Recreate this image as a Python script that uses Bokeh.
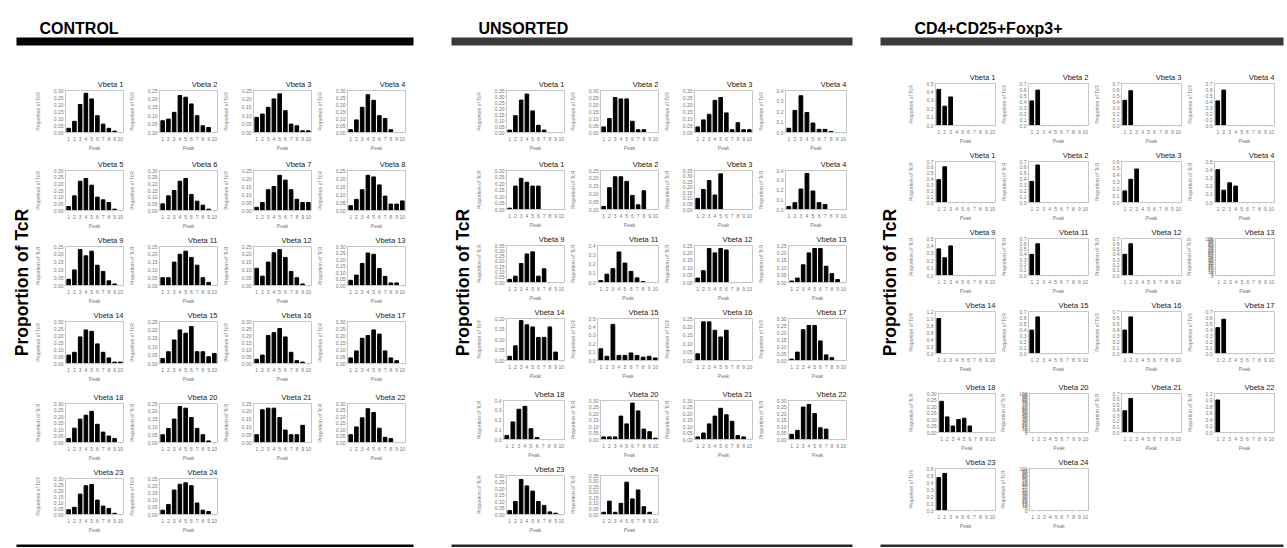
import math
from bokeh.plotting import figure
from bokeh.layouts import row, column
from bokeh.models import Range1d, FixedTicker, PrintfTickFormatter, Spacer, ColumnDataSource
from bokeh.core.properties import value
from bokeh.embed import file_html
from bokeh.resources import INLINE

FONT = "Liberation Sans"

PANEL_NAMES = ["CONTROL", "UNSORTED", "CD4+CD25+Foxp3+"]
BIG_LABEL = "Proportion of TcR"
X_LABEL = "Peak"
PEAKS = [1, 2, 3, 4, 5, 6, 7, 8, 9, 10]

CONTROL_TITLES = ["Vbeta 1", "Vbeta 2", "Vbeta 3", "Vbeta 4", "Vbeta 5", "Vbeta 6", "Vbeta 7", "Vbeta 8",
                  "Vbeta 9", "Vbeta 11", "Vbeta 12", "Vbeta 13", "Vbeta 14", "Vbeta 15", "Vbeta 16", "Vbeta 17",
                  "Vbeta 18", "Vbeta 20", "Vbeta 21", "Vbeta 22", "Vbeta 23", "Vbeta 24"]
CONTROL_YMAX = [0.30, 0.25, 0.25, 0.30, 0.30, 0.30, 0.25, 0.25,
                0.25, 0.25, 0.25, 0.30, 0.30, 0.25, 0.30, 0.30,
                0.30, 0.25, 0.25, 0.30, 0.30, 0.25]
CONTROL_VALUES = [
    [0.03, 0.08, 0.20, 0.28, 0.24, 0.12, 0.06, 0.03, 0.01, 0.00],
    [0.07, 0.08, 0.12, 0.22, 0.21, 0.17, 0.10, 0.04, 0.03, 0.00],
    [0.09, 0.11, 0.15, 0.20, 0.23, 0.13, 0.05, 0.04, 0.01, 0.01],
    [0.02, 0.09, 0.18, 0.27, 0.23, 0.12, 0.10, 0.02, 0.00, 0.00],
    [0.03, 0.11, 0.22, 0.24, 0.19, 0.10, 0.08, 0.06, 0.01, 0.00],
    [0.05, 0.11, 0.15, 0.22, 0.24, 0.12, 0.07, 0.04, 0.01, 0.00],
    [0.02, 0.05, 0.13, 0.15, 0.22, 0.19, 0.13, 0.07, 0.05, 0.05],
    [0.03, 0.07, 0.13, 0.22, 0.21, 0.16, 0.09, 0.04, 0.04, 0.06],
    [0.04, 0.10, 0.23, 0.19, 0.22, 0.13, 0.09, 0.03, 0.01, 0.00],
    [0.05, 0.05, 0.15, 0.20, 0.22, 0.18, 0.13, 0.05, 0.02, 0.00],
    [0.11, 0.06, 0.15, 0.21, 0.23, 0.18, 0.09, 0.05, 0.01, 0.00],
    [0.04, 0.08, 0.17, 0.25, 0.24, 0.13, 0.07, 0.02, 0.02, 0.00],
    [0.06, 0.08, 0.19, 0.24, 0.23, 0.14, 0.08, 0.04, 0.01, 0.01],
    [0.03, 0.07, 0.14, 0.20, 0.18, 0.22, 0.07, 0.07, 0.04, 0.06],
    [0.03, 0.06, 0.20, 0.22, 0.25, 0.19, 0.08, 0.02, 0.01, 0.00],
    [0.04, 0.09, 0.18, 0.20, 0.24, 0.21, 0.09, 0.04, 0.02, 0.00],
    [0.03, 0.11, 0.18, 0.21, 0.24, 0.14, 0.08, 0.05, 0.03, 0.00],
    [0.05, 0.09, 0.15, 0.23, 0.22, 0.16, 0.09, 0.05, 0.01, 0.00],
    [0.05, 0.21, 0.22, 0.22, 0.16, 0.08, 0.05, 0.05, 0.11, 0.00],
    [0.06, 0.12, 0.19, 0.26, 0.23, 0.11, 0.04, 0.03, 0.00, 0.00],
    [0.04, 0.06, 0.17, 0.24, 0.25, 0.12, 0.07, 0.05, 0.01, 0.00],
    [0.03, 0.07, 0.17, 0.21, 0.22, 0.20, 0.08, 0.03, 0.02, 0.00],
]

UNSORTED_TITLES = ["Vbeta 1", "Vbeta 2", "Vbeta 3", "Vbeta 4", "Vbeta 1", "Vbeta 2", "Vbeta 3", "Vbeta 4",
                   "Vbeta 9", "Vbeta 11", "Vbeta 12", "Vbeta 13", "Vbeta 14", "Vbeta 15", "Vbeta 16", "Vbeta 17",
                   "Vbeta 18", "Vbeta 20", "Vbeta 21", "Vbeta 22", "Vbeta 23", "Vbeta 24"]
UNSORTED_YMAX = [0.35, 0.30, 0.30, 0.4, 0.30, 0.25, 0.35, 0.4,
                 0.35, 0.4, 0.25, 0.25, 0.20, 0.5, 0.25, 0.30,
                 0.4, 0.30, 0.30, 0.30, 0.30, 0.35]
UNSORTED_VALUES = [
    [0.02, 0.14, 0.27, 0.32, 0.18, 0.06, 0.02, 0.00, 0.00, 0.00],
    [0.04, 0.10, 0.25, 0.24, 0.24, 0.08, 0.02, 0.02, 0.00, 0.00],
    [0.04, 0.09, 0.13, 0.23, 0.25, 0.14, 0.02, 0.07, 0.02, 0.02],
    [0.04, 0.21, 0.35, 0.19, 0.09, 0.03, 0.03, 0.01, 0.00, 0.00],
    [0.01, 0.18, 0.24, 0.21, 0.18, 0.18, 0.00, 0.00, 0.00, 0.00],
    [0.02, 0.14, 0.21, 0.21, 0.18, 0.09, 0.03, 0.12, 0.00, 0.00],
    [0.10, 0.18, 0.26, 0.13, 0.32, 0.00, 0.00, 0.00, 0.00, 0.00],
    [0.03, 0.07, 0.21, 0.37, 0.19, 0.07, 0.05, 0.00, 0.00, 0.00],
    [0.03, 0.06, 0.18, 0.27, 0.29, 0.06, 0.13, 0.00, 0.00, 0.00],
    [0.02, 0.09, 0.15, 0.33, 0.21, 0.12, 0.05, 0.01, 0.00, 0.00],
    [0.03, 0.08, 0.23, 0.20, 0.23, 0.22, 0.00, 0.00, 0.00, 0.00],
    [0.01, 0.03, 0.12, 0.20, 0.23, 0.23, 0.11, 0.06, 0.02, 0.00],
    [0.02, 0.07, 0.19, 0.17, 0.16, 0.11, 0.11, 0.16, 0.04, 0.00],
    [0.14, 0.05, 0.43, 0.06, 0.06, 0.09, 0.06, 0.04, 0.05, 0.03],
    [0.04, 0.23, 0.23, 0.18, 0.14, 0.18, 0.00, 0.00, 0.00, 0.00],
    [0.01, 0.06, 0.22, 0.25, 0.25, 0.14, 0.04, 0.02, 0.00, 0.00],
    [0.04, 0.18, 0.31, 0.34, 0.11, 0.02, 0.00, 0.00, 0.00, 0.00],
    [0.02, 0.02, 0.02, 0.18, 0.12, 0.28, 0.22, 0.08, 0.06, 0.01],
    [0.02, 0.05, 0.12, 0.18, 0.24, 0.19, 0.14, 0.03, 0.02, 0.00],
    [0.04, 0.07, 0.25, 0.27, 0.20, 0.09, 0.08, 0.00, 0.00, 0.00],
    [0.03, 0.10, 0.27, 0.22, 0.18, 0.10, 0.07, 0.02, 0.01, 0.00],
    [0.02, 0.12, 0.02, 0.10, 0.29, 0.14, 0.22, 0.07, 0.02, 0.00],
]

CD4_TITLES = list(UNSORTED_TITLES)
CD4_YMAX = [0.5, 0.7, 0.7, 0.7, 0.7, 0.7, 0.6, 0.5,
            0.5, 0.7, 0.7, 100, 1.2, 0.7, 0.7, 0.7,
            0.30, 100, 0.7, 1.2, 0.6, 100]
CD4_VALUES = [
    [0.43, 0.23, 0.34],
    [0.41, 0.59],
    [0.42, 0.58],
    [0.41, 0.59],
    [0.39, 0.61],
    [0.36, 0.64],
    [0.17, 0.34, 0.49],
    [0.40, 0.15, 0.24, 0.20],
    [0.36, 0.24, 0.40],
    [0.40, 0.60],
    [0.40, 0.60],
    [],
    [1.00],
    [0.39, 0.61],
    [0.39, 0.61],
    [0.43, 0.57],
    [0.24, 0.12, 0.05, 0.10, 0.11, 0.05],
    [],
    [0.39, 0.61],
    [1.00],
    [0.47, 0.53],
    [],
]

GRAY = "#c6c6c6"


def tick_spec(ymax):
    if ymax <= 0.36:
        return 0.05, "%.2f"
    if ymax <= 0.8:
        return 0.1, "%.1f"
    if ymax <= 1.5:
        return 0.2, "%.1f"
    return 5, "%d"


def mini(title, ymax, vals, W, H, frame_w):
    p = figure(width=W, height=H, x_range=Range1d(0.45, 10.55), y_range=Range1d(0, ymax),
               toolbar_location=None, output_backend="svg",
               min_border_left=28, min_border_right=W - 28 - frame_w,
               min_border_top=12, min_border_bottom=H - 12 - 45,
               title=title, title_location="above")
    p.title.align = "right"
    p.title.text_font = FONT
    p.title.text_font_size = "7.5px"
    p.title.text_font_style = "normal"
    p.title.text_color = "#222222"
    p.title.standoff = 4
    p.title.offset = 0
    src = ColumnDataSource(dict(x=PEAKS[:len(vals)], top=vals))
    p.vbar(x="x", top="top", bottom=0, width=0.62, source=src, color="black")
    step, fmt = tick_spec(ymax)
    n = int(round(ymax / step))
    p.yaxis.ticker = FixedTicker(ticks=[round(i * step, 4) for i in range(n + 1)])
    p.yaxis.formatter = PrintfTickFormatter(format=fmt)
    p.xaxis.ticker = FixedTicker(ticks=PEAKS)
    p.xaxis.formatter = PrintfTickFormatter(format="%d")
    for ax in (p.xaxis[0], p.yaxis[0]):
        ax.major_label_text_font = FONT
        ax.major_label_text_font_size = "5px"
        ax.major_label_text_color = "#777777"
        ax.axis_label_text_font = FONT
        ax.axis_label_text_font_size = "5px"
        ax.axis_label_text_font_style = "normal"
        ax.axis_label_text_color = "#777777"
        ax.axis_line_color = GRAY
        ax.major_tick_line_color = GRAY
        ax.major_tick_out = 1
        ax.major_tick_in = 0
        ax.minor_tick_line_color = None
        ax.major_label_standoff = 1
    p.xaxis.axis_label = X_LABEL
    p.yaxis.axis_label = BIG_LABEL
    p.yaxis.axis_label_standoff = 10
    p.xaxis.major_label_standoff = 3
    p.xaxis.axis_label_standoff = 1
    p.grid.visible = False
    p.outline_line_color = GRAY
    return p


def grid_panel(titles, ymaxes, values, top_pad, row_heights, W, frame_w):
    rows = []
    if top_pad:
        rows.append(Spacer(width=W, height=top_pad))
    for r, H in enumerate(row_heights):
        figs = []
        for c in range(4):
            i = r * 4 + c
            if i < len(titles):
                figs.append(mini(titles[i], ymaxes[i], values[i], W, H, frame_w))
        rows.append(row(figs, spacing=0))
    return column(rows, spacing=0)


MID_H = 467


def label_fig(w, cx, cy):
    p = figure(width=w, height=MID_H, x_range=Range1d(0, w), y_range=Range1d(MID_H, 0),
               x_axis_type=None, y_axis_type=None, toolbar_location=None, output_backend="svg",
               min_border=0, outline_line_color=None)
    p.grid.visible = False
    p.text(x=[cx], y=[cy], text=[BIG_LABEL], angle=math.pi / 2, text_align="center",
           text_baseline="middle", text_font=value(FONT), text_font_style="bold",
           text_font_size="17.5px", text_color="black")
    return p


TOTAL_W = 1284
HDR_H = 68
hdr = figure(width=TOTAL_W, height=HDR_H, x_range=Range1d(0, TOTAL_W), y_range=Range1d(HDR_H, 0),
             x_axis_type=None, y_axis_type=None, toolbar_location=None, output_backend="svg",
             min_border=0, outline_line_color=None)
hdr.grid.visible = False
hdr.text(x=[39, 478, 914], y=[27.5, 27.5, 27.5], text=PANEL_NAMES, text_font=value(FONT),
         text_font_style="bold", text_font_size="16px", text_baseline="alphabetic", text_color="black")
hdr.quad(left=[16, 451, 880], right=[413, 852, 1283], top=[37, 37, 37], bottom=[45, 45, 45],
         color=["#000000", "#3b3b3b", "#3b3b3b"], line_color=None)

FTR_H = 12
ftr = figure(width=TOTAL_W, height=FTR_H, x_range=Range1d(0, TOTAL_W), y_range=Range1d(FTR_H, 0),
             x_axis_type=None, y_axis_type=None, toolbar_location=None, output_backend="svg",
             min_border=0, outline_line_color=None)
ftr.grid.visible = False
ftr.quad(left=[16, 451, 880], right=[413, 852, 1283], top=[9, 9, 9], bottom=[12, 12, 12],
         color=["#000000", "#262626", "#2e2e2e"], line_color=None)

ctrl = grid_panel(CONTROL_TITLES, CONTROL_YMAX, CONTROL_VALUES, 7, [80, 76, 75, 82, 75, 72], 94, 64)
uns = grid_panel(UNSORTED_TITLES, UNSORTED_YMAX, UNSORTED_VALUES, 7, [80, 75, 73, 82, 75, 75], 94, 64)
cd4 = grid_panel(CD4_TITLES, CD4_YMAX, CD4_VALUES, 0, [78, 77, 73, 82, 75, 82], 93, 63)

middle = row([label_fig(31, 21.5, 214), ctrl, label_fig(65, 55, 214), uns, label_fig(56, 41, 214), cd4],
             spacing=0)

root = column([hdr, middle, ftr], spacing=0)

open("out.html", "w").write(file_html(root, INLINE))
